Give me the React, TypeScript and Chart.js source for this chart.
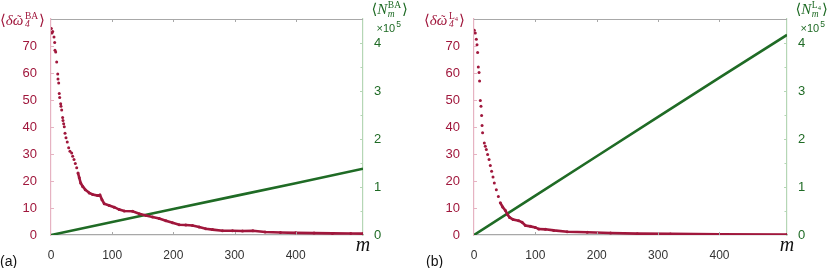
import React, { useEffect, useRef } from 'react';
import { Chart, registerables } from 'chart.js';

Chart.register(...registerables);

// ---------- data ----------
// panel (a): BA
const mBA = [0.5, 1.6, 2.8, 4.9, 6, 6.5, 7.7, 9.3, 11, 11.4, 12.6, 13.5, 14.2, 15.8, 16.3, 17.5, 19, 19.6, 20.7, 21.7,
  22.9, 24.5, 26.6, 28.9, 31, 33.8, 35.4, 37.6, 39.7, 42, 44.1, 46.2, 48.5, 51.8, 56, 62.5, 68.1, 76.2, 80, 83.3,
  87, 95.2, 103.3, 111.5, 119.7, 133.4, 144.2, 155.1, 166, 176.8, 187.8, 198.7, 209.5, 220.4, 231.3, 242.1, 253, 264, 280.3, 296.7,
  313, 330, 350, 375, 400, 430, 460, 490, 510];
const omegaBA = [76.5, 74.8, 75.4, 73.3, 71.3, 68.4, 67.8, 64.1, 59.6, 57.8, 56.3, 52.4, 50.9, 48.6, 47.7, 46.3, 43.5, 42.4, 41.2, 40.1,
  37.7, 36, 34.4, 32.3, 31, 30.4, 29.2, 28, 26.5, 24.9, 23, 21.2, 19.3, 18, 16.8, 15.6, 15, 14.6, 14.8, 13.1,
  11.6, 10.9, 10.3, 9.4, 8.9, 8.8, 7.9, 7.2, 6.7, 6.1, 5.3, 4.5, 3.8, 3.7, 3.5, 3, 2.3, 2, 1.6, 1.6,
  1.5, 1.6, 1.1, 0.9, 0.8, 0.7, 0.6, 0.55, 0.5];
// panel (b): L4
const mL4 = [0.5, 2.1, 3.8, 4.9, 5.9, 7, 8.2, 9.1, 10.3, 11.4, 12.4, 13.1, 14,
  16.8, 18.4, 20.1, 22.2, 24.5, 26.6, 28.7, 31, 33.1, 36.4, 39.7, 42.9, 46.7, 51.1, 54.9, 58.1, 63.7, 72.8, 78.4, 83.8, 91.9,
  100, 105.5, 116.4, 130, 151.8, 184.5, 222.5, 266, 320, 400, 510];
const omegaL4 = [75.8, 74.8, 72.5, 70.5, 67.6, 62.2, 60.2, 57, 49.8, 47.7, 44.3, 40.6, 37.9,
  34.1, 32.9, 31.7, 29.8, 28, 25.7, 23.6, 21.5, 19.3, 16.8, 14.3, 11.9, 10.4, 9.1, 7.5, 6.5, 5.7, 5.3, 4.7, 3.5, 3.2,
  2.8, 2.2, 2.1, 1.7, 1.2, 1.0, 0.75, 0.5, 0.4, 0.3, 0.2];
// N_m (units of 1e5)
const mN = [0, 100, 200, 300, 400, 510];
const nBA = [0, 0.27, 0.54, 0.81, 1.08, 1.38];
const nL4 = [0, 0.82, 1.64, 2.46, 3.28, 4.17];

const xTicks = [0, 100, 200, 300, 400];
const leftTicks = [0, 10, 20, 30, 40, 50, 60, 70];
const rightMajor = [0, 1, 2, 3, 4];
const rightMinor = [0.5, 1.5, 2.5, 3.5];

const RED = '#a0173c';
const GREEN = '#1f6b25';
const PINK_AXIS = '#e6b3c2';
const GREEN_AXIS = '#b5d6b5';
const GRAY = '#a8a8a8';
const SERIF = '"Liberation Serif", "DejaVu Serif", serif';
const SANS = '"Liberation Sans", Arial, sans-serif';

type PanelProps = {
  m: number[]; w: number[]; n: number[]; lineFrom: number;
  width: number; leftW: number; rightW: number;
  tag: string; tagX: number; supKind: 'BA' | 'L4';
};

function drawTitles(ctx: CanvasRenderingContext2D, area: any, p: PanelProps) {
  ctx.save();
  ctx.textBaseline = 'alphabetic';
  ctx.textAlign = 'left';
  const main = `15px ${SERIF}`;
  const mainI = `italic 15px ${SERIF}`;
  const small = `9.5px ${SERIF}`;
  const smallI = `italic 9.5px ${SERIF}`;
  const tiny = `6.5px ${SERIF}`;

  const drawSup = (x: number, y: number) => {
    ctx.font = small;
    if (p.supKind === 'BA') {
      ctx.fillText('BA', x, y - 6.5);
      return ctx.measureText('BA').width;
    }
    ctx.fillText('L', x, y - 6.5);
    const wl = ctx.measureText('L').width;
    ctx.font = tiny;
    ctx.fillText('4', x + wl, y - 4.5);
    return wl + ctx.measureText('4').width;
  };

  // left title  ⟨δω̃_4^{..}⟩
  ctx.fillStyle = RED;
  let x = area.left - (p.supKind === 'BA' ? 51 : 50);
  let y = 25;
  ctx.font = main; ctx.fillText('\u27E8', x, y); x += ctx.measureText('\u27E8').width;
  ctx.font = mainI; ctx.fillText('\u03B4', x, y); x += ctx.measureText('\u03B4').width;
  const wOm = ctx.measureText('\u03C9').width;
  ctx.fillText('\u03C9', x, y);
  ctx.font = `13px ${SERIF}`;
  const wT = ctx.measureText('\u02DC').width;
  ctx.fillText('\u02DC', x + wOm / 2 - wT / 2 + 1, y - 1);
  x += wOm + 1.5;
  const ws = drawSup(x, y);
  ctx.font = smallI; ctx.fillText('4', x, y + 2);
  x += Math.max(ws, ctx.measureText('4').width) + 1;
  ctx.font = main; ctx.fillText('\u27E9', x, y);

  // right title ⟨N_m^{..}⟩ ×10^5
  ctx.fillStyle = GREEN;
  x = area.right + 8.5; y = 14;
  ctx.font = main; ctx.fillText('\u27E8', x, y); x += ctx.measureText('\u27E8').width;
  ctx.font = mainI; ctx.fillText('N', x, y); x += ctx.measureText('N').width + 0.5;
  const ws2 = drawSup(x, y);
  ctx.font = smallI; ctx.fillText('m', x, y + 3);
  x += Math.max(ws2, ctx.measureText('m').width) + 1;
  ctx.font = main; ctx.fillText('\u27E9', x, y);

  x = area.right + 13.5; y = 31.5;
  ctx.font = `11px ${SANS}`; ctx.fillText('\u00D710', x, y); x += ctx.measureText('\u00D710').width + 1;
  ctx.font = `8.5px ${SANS}`; ctx.fillText('5', x, y - 5);

  // m label at the end of the x axis
  ctx.fillStyle = '#111';
  ctx.font = `italic 20px ${SERIF}`;
  ctx.textAlign = 'center';
  ctx.fillText('m', area.right, 251);

  // panel tag
  ctx.textAlign = 'left';
  ctx.font = `14px ${SANS}`;
  ctx.fillText(p.tag, p.tagX, 266);
  ctx.restore();
}

function Panel(p: PanelProps) {
  const ref = useRef<HTMLCanvasElement>(null);
  useEffect(() => {
    const canvas = ref.current!;
    const decor = {
      id: 'decor',
      afterDraw(chart: any) {
        const ctx: CanvasRenderingContext2D = chart.ctx;
        const a = chart.chartArea;
        const sx = chart.scales.x, sy = chart.scales.y, sy1 = chart.scales.y1;
        ctx.save();
        ctx.lineWidth = 1;
        ctx.strokeStyle = GRAY;
        ctx.beginPath(); ctx.moveTo(a.left, a.top + 0.5); ctx.lineTo(a.right, a.top + 0.5); ctx.stroke();
        ctx.beginPath();
        for (const v of xTicks) {
          if (v === 0) continue;
          const px = Math.round(sx.getPixelForValue(v)) + 0.5;
          ctx.moveTo(px, a.bottom); ctx.lineTo(px, a.bottom - 3);
          ctx.moveTo(px, a.top); ctx.lineTo(px, a.top + 3);
        }
        ctx.stroke();
        ctx.strokeStyle = PINK_AXIS;
        ctx.beginPath();
        for (const v of leftTicks) {
          if (v === 0) continue;
          const py = Math.round(sy.getPixelForValue(v)) + 0.5;
          ctx.moveTo(a.left, py); ctx.lineTo(a.left + 3, py);
        }
        ctx.stroke();
        ctx.strokeStyle = GREEN_AXIS;
        ctx.beginPath();
        for (const v of rightMajor) {
          if (v === 0) continue;
          const py = Math.round(sy1.getPixelForValue(v)) + 0.5;
          ctx.moveTo(a.right, py); ctx.lineTo(a.right - 3, py);
        }
        for (const v of rightMinor) {
          const py = Math.round(sy1.getPixelForValue(v)) + 0.5;
          ctx.moveTo(a.right, py); ctx.lineTo(a.right - 2.5, py);
        }
        ctx.stroke();
        ctx.restore();
        drawTitles(ctx, a, p);
      },
    };
    const redData = p.m.map((x, i) => ({ x, y: p.w[i] }));
    const greenData = mN.map((x, i) => ({ x, y: p.n[i] }));
    const chart = new Chart(canvas, {
      type: 'scatter',
      data: {
        datasets: [
          {
            data: redData,
            yAxisID: 'y',
            showLine: true,
            borderColor: RED,
            borderWidth: 2.6,
            backgroundColor: RED,
            pointRadius: 1.5,
            pointBorderWidth: 0,
            pointBackgroundColor: RED,
            order: 0,
            segment: {
              borderColor: (c: any) => (c.p0.parsed.x >= p.lineFrom ? RED : 'rgba(0,0,0,0)'),
            },
          } as any,
          {
            data: greenData,
            yAxisID: 'y1',
            showLine: true,
            borderColor: GREEN,
            borderWidth: 2.6,
            pointRadius: 0,
            order: 1,
          } as any,
        ],
      },
      options: {
        animation: false,
        responsive: false,
        devicePixelRatio: 1,
        events: [],
        layout: { padding: { top: 19, bottom: 0, left: 0, right: 0 } },
        plugins: { legend: { display: false }, tooltip: { enabled: false } },
        scales: {
          x: {
            type: 'linear',
            min: 0,
            max: 510,
            grid: { display: false },
            border: { display: true, color: GRAY, width: 1.3 },
            afterBuildTicks: (s: any) => { s.ticks = xTicks.map((v) => ({ value: v })); },
            afterFit: (s: any) => { s.height = 33; },
            ticks: { color: '#333', font: { family: SANS, size: 12 }, padding: 5, maxRotation: 0 },
          },
          y: {
            type: 'linear',
            position: 'left',
            min: 0,
            max: 80,
            grid: { display: false },
            border: { display: true, color: PINK_AXIS, width: 1.2 },
            afterFit: (s: any) => { s.width = p.leftW; },
            ticks: {
              stepSize: 10,
              color: RED,
              padding: 6,
              font: { family: SANS, size: 13 },
              callback: (v: any) => (v >= 80 ? '' : String(v)),
            },
          },
          y1: {
            type: 'linear',
            position: 'right',
            min: 0,
            max: 4.5,
            grid: { display: false },
            border: { display: true, color: GREEN_AXIS, width: 1.2 },
            afterFit: (s: any) => { s.width = p.rightW; },
            ticks: {
              stepSize: 0.5,
              color: GREEN,
              padding: 3,
              font: { family: SANS, size: 13 },
              callback: (v: any) => (Number.isInteger(v) && v <= 4 ? String(v) : ''),
            },
          },
        },
      } as any,
      plugins: [decor],
    });
    return () => chart.destroy();
  }, []);
  return <canvas ref={ref} width={p.width} height={268} style={{ display: 'block', width: p.width, height: 268 }} />;
}

export default function App() {
  return (
    <div style={{ position: 'absolute', left: 0, top: 0, width: 831, height: 268, display: 'flex', background: '#fff' }}>
      <Panel m={mBA} w={omegaBA} n={nBA} lineFrom={44} width={415} leftW={51} rightW={52} tag="(a)" tagX={0} supKind="BA" />
      <Panel m={mL4} w={omegaL4} n={nL4} lineFrom={42} width={416} leftW={59} rightW={44} tag="(b)" tagX={11} supKind="L4" />
    </div>
  );
}
